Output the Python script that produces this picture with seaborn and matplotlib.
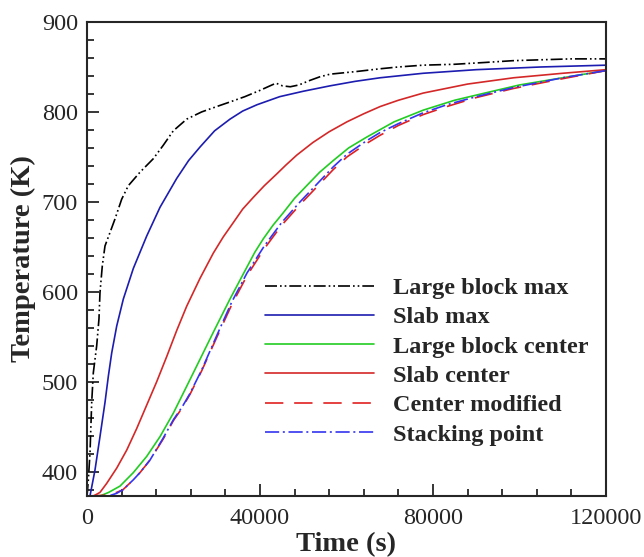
import pandas as pd
import matplotlib
matplotlib.use("Agg")
import matplotlib.pyplot as plt
from matplotlib.ticker import MultipleLocator
import seaborn as sns

# curves (time in s, temperature in K)
t_lb_max = [0, 300, 694, 1087, 1460, 2240, 2770, 3000, 3540, 4160, 5320, 6470, 8020, 9550,
            12250, 15330, 17640, 19950, 23050, 26500, 30000, 33000, 36500, 40000, 42300, 43700,
            45200, 47000, 49000, 51500, 53800, 56200, 62400, 67780, 72000, 77700, 85000, 92000,
            98500, 105000, 112000, 120000]
T_lb_max = [373, 390, 421, 477, 510, 540, 570, 599, 629, 651, 666, 681, 703, 718,
            733, 748, 763, 779, 792, 800, 806, 811, 817, 824, 829, 832,
            829, 828, 830, 835, 839, 842, 845, 848, 850, 852, 853, 855,
            857, 858, 859, 859]

t_slab_max = [0, 690, 1850, 3000, 4160, 4930, 5710, 6870, 8400, 10710, 13800, 16880, 20730,
              23500, 26130, 29500, 33060, 36000, 39300, 44560, 50000, 56170, 62000, 67780,
              77750, 90000, 105000, 120000]
T_slab_max = [373, 373, 402, 439, 477, 506, 532, 562, 592, 626, 662, 694, 726,
              746, 761, 779, 792, 801, 808, 817, 823, 829, 834, 838,
              843, 847, 850, 852]

t_lb_center = [0, 3000, 5000, 7630, 10710, 13800, 16880, 19950, 23050, 26130, 29200, 33060,
               36920, 38800, 40770, 43000, 45390, 48000, 50790, 53800, 56950, 60500, 64660,
               71000, 77750, 85000, 92000, 100000, 110000, 120000]
T_lb_center = [373, 373, 377, 384, 399, 417, 439, 465, 495, 525, 555, 592,
               627, 644, 659, 674, 688, 704, 718, 733, 746, 760, 772,
               789, 802, 813, 821, 830, 838, 846]

t_slab_center = [0, 1500, 3000, 4550, 6870, 9180, 11490, 13800, 16110, 18430, 20740, 23050,
                 26130, 29200, 31500, 33830, 36000, 38450, 41000, 43860, 46000, 48500, 52220,
                 56000, 60100, 64000, 67780, 72000, 77750, 88000, 98650, 110000, 120000]
T_slab_center = [373, 373, 377, 387, 404, 424, 448, 474, 500, 528, 557, 584,
                 615, 643, 661, 677, 692, 705, 718, 731, 741, 752, 766,
                 778, 789, 798, 806, 813, 821, 831, 838, 843, 847]

t_center_mod = [0, 5000, 6870, 8320, 10710, 12250, 14570, 17570, 20000, 22000, 23810, 26500,
                30060, 33500, 37000, 41000, 45000, 49250, 52220, 56950, 60110, 64660, 67740,
                72000, 77700, 83200, 90000, 98500, 110000, 120000]
T_center_mod = [373, 374, 377, 380, 391, 399, 413, 436, 457, 471, 486, 512,
                550, 586, 618, 648, 674, 697, 712, 736, 750, 765, 774,
                785, 797, 806, 816, 826, 837, 846]

t_stacking = [0, 5000, 6870, 8320, 10710, 12250, 14570, 17570, 20000, 22000, 23810, 26500,
              30060, 33500, 37000, 41000, 45000, 49250, 52220, 56950, 60110, 64660, 67740,
              72000, 77700, 83200, 90000, 98500, 110000, 120000]
T_stacking = [373, 373, 376, 380, 391, 399, 413, 437, 458, 472, 487, 513,
              552, 589, 621, 651, 677, 700, 715, 739, 753, 768, 777,
              787, 799, 808, 817, 827, 838, 846]

names = ["Large block max", "Slab max", "Large block center", "Slab center",
         "Center modified", "Stacking point"]
colors = ["#000000", "#1c1cb0", "#22cc22", "#d42828", "#e02020", "#3434f0"]
styles = [(0, (7.2, 1.8, 1, 1.8, 1, 1.8)), "-", "-", "-", (0, (11, 6.5)), (0, (8.5, 2.2, 1.2, 2.2))]

series = [(t_lb_max, T_lb_max), (t_slab_max, T_slab_max), (t_lb_center, T_lb_center),
          (t_slab_center, T_slab_center), (t_center_mod, T_center_mod), (t_stacking, T_stacking)]

sns.set_style("ticks")
plt.rcParams['font.family'] = ['Liberation Serif', 'DejaVu Serif']

fig = plt.figure(figsize=(6.44, 5.57), dpi=100)
ax = fig.add_axes([87 / 644, 61 / 557, 519 / 644, 474 / 557])

for name, col, ls, (tt, TT) in zip(names, colors, styles, series):
    df = pd.DataFrame({"Time": tt, "Temp": TT})
    sns.lineplot(data=df, x="Time", y="Temp", ax=ax, color=col, linestyle=ls,
                 linewidth=1.2, label=name, sort=False)

ax.set_xlim(0, 120000)
ax.set_ylim(373, 900)
ax.xaxis.set_major_locator(MultipleLocator(40000))
ax.xaxis.set_minor_locator(MultipleLocator(8000))
ax.yaxis.set_major_locator(MultipleLocator(100))
ax.yaxis.set_minor_locator(MultipleLocator(20))
ax.tick_params(which="both", direction="in", top=False, right=False, width=1.3, labelsize=17.5)
ax.tick_params(which="major", length=8.5)
ax.tick_params(which="minor", length=5)
ax.tick_params(axis="x", pad=9)
ax.tick_params(axis="y", pad=6.5)
for s in ax.spines.values():
    s.set_linewidth(1.5)
    s.set_visible(True)

ax.set_xlabel("Time (s)", fontsize=20.5, fontweight="bold", labelpad=2)
ax.set_ylabel("Temperature (K)", fontsize=20.5, fontweight="bold", labelpad=4)

ax.legend(loc="upper left", bbox_to_anchor=(0.343, 0.462), frameon=False, borderpad=0,
          borderaxespad=0, handlelength=4.5, handletextpad=0.78, labelspacing=0.3,
          prop={"family": "Liberation Serif", "weight": "bold", "size": 17.5})

fig.savefig("out.png", dpi=100)
